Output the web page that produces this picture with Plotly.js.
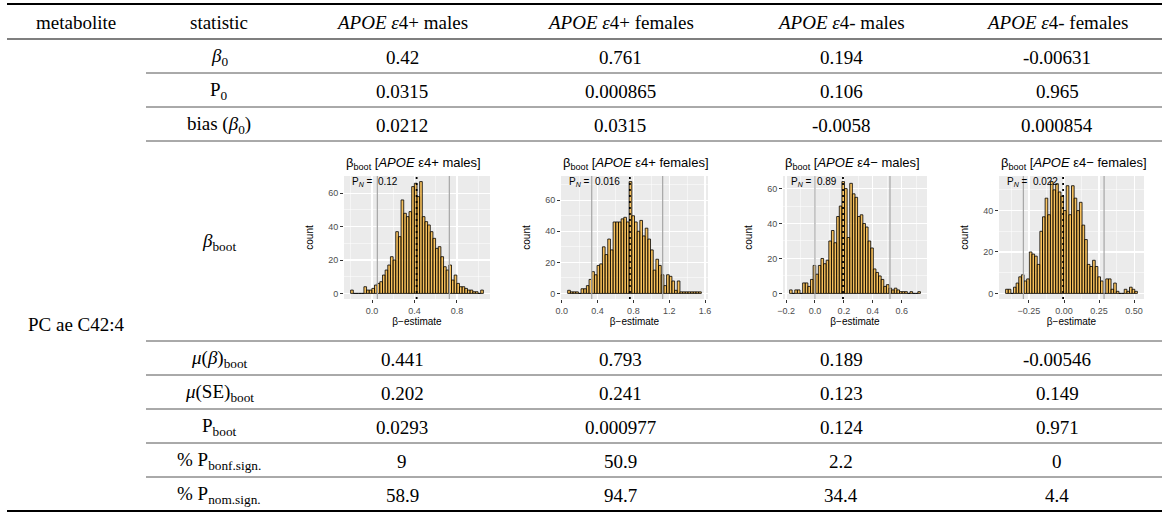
<!DOCTYPE html>
<html><head><meta charset="utf-8">
<script src="https://cdn.plot.ly/plotly-3.0.1.min.js"></script>
<style>html,body{margin:0;padding:0;background:#fff}#chart{width:1164px;height:512px}</style>
</head><body><div id="chart"></div>
<script>
// ---------- data ----------
const headerLabels = ['metabolite', 'statistic'];
const groupLabels = ['<i>APOE ε</i>4+ males', '<i>APOE ε</i>4+ females', '<i>APOE ε</i>4- males', '<i>APOE ε</i>4- females'];
const histTitles = ['β<sub>boot</sub> [<i>APOE</i> ε4+ males]', 'β<sub>boot</sub> [<i>APOE</i> ε4+ females]',
                    'β<sub>boot</sub> [<i>APOE</i> ε4− males]', 'β<sub>boot</sub> [<i>APOE</i> ε4− females]'];
const metaboliteName = 'PC ae C42:4';
const statLabels = ['<i>β</i><sub>0</sub>', 'P<sub>0</sub>', 'bias (<i>β</i><sub>0</sub>)', '<i>β</i><sub>boot</sub>',
                    '<i>μ</i>(<i>β</i>)<sub>boot</sub>', '<i>μ</i>(SE)<sub>boot</sub>', 'P<sub>boot</sub>',
                    '% P<sub>bonf.sign.</sub>', '% P<sub>nom.sign.</sub>'];
const beta0   = [0.42, 0.761, 0.194, -0.00631];
const p0      = [0.0315, 0.000865, 0.106, 0.965];
const bias0   = [0.0212, 0.0315, -0.0058, 0.000854];
const muBeta  = [0.441, 0.793, 0.189, -0.00546];
const muSE    = [0.202, 0.241, 0.123, 0.149];
const pBoot   = [0.0293, 0.000977, 0.124, 0.971];
const pBonf   = [9, 50.9, 2.2, 0];
const pNom    = [58.9, 94.7, 34.4, 4.4];
const pN      = [0.12, 0.016, 0.89, 0.022];
const qLow    = [0.05, 0.335, 0.0, -0.29];
const qHigh   = [0.728, 1.127, 0.519, 0.286];
const binStart = [-0.189, 0.0815, -0.1667, -0.4076];
const binWidth = [0.025, 0.02984, 0.01811, 0.01882];
const counts1 = [2,0,0,0,0,4,2,2,3,5,6,7,11,14,17,22,20,37,34,56,48,46,49,64,66,58,67,46,43,41,37,33,27,28,22,16,14,17,8,11,6,4,4,3,2,2,1,1,0,2];
const counts2 = [2,1,1,1,0,3,3,5,9,14,12,18,19,30,25,35,28,46,46,46,48,49,46,72,50,46,40,47,37,42,35,28,15,22,18,12,5,12,11,8,2,8,1,1,1,1,1,1,1,1];
const counts3 = [2,0,2,2,0,6,6,4,8,16,11,16,20,17,19,30,36,29,44,50,64,60,32,63,57,55,44,45,40,38,30,26,14,12,10,8,4,5,3,2,3,2,1,1,1,0,1,0,0,1];
const counts4 = [2,2,0,3,5,8,9,6,7,20,19,18,14,30,37,46,38,54,50,53,49,47,40,52,38,52,46,40,44,33,26,14,13,16,13,8,6,0,7,7,2,5,1,0,0,2,1,3,2,1];
const xTickStep = [0.4, 0.4, 0.2, 0.25];
const xTickFmt = ['.1f', '.1f', '.1f', '.2f'];

// ---------- layout geometry (pixels) ----------
const W = 1164, H = 512;
const fx = p => p / W, fy = p => 1 - p / H;
const lines = [4, 39, 73, 107, 141, 341, 375, 409, 443, 477, 511];
const colX = [76, 219, 402, 620, 841, 1057];
const panelX = [[344, 490], [561, 708], [783, 927], [999, 1144]];
const panelY = [176, 299];

const serif = 'Liberation Serif, Times New Roman, serif';
const sans = 'Liberation Sans, Arial, sans-serif';
const ann = [];
const shapes = [];
function cell(text, col, row) {
  const yc = (lines[row] + lines[row + 1]) / 2 + 1;
  ann.push({text, x: fx(colX[col]), y: fy(yc), xref: 'paper', yref: 'paper', xanchor: 'center', yanchor: 'middle',
            showarrow: false, font: {family: serif, size: 19, color: '#000'}});
}
cell(headerLabels[0], 0, 0); cell(headerLabels[1], 1, 0);
groupLabels.forEach((g, i) => cell(g, i + 2, 0));
statLabels.forEach((s, i) => cell(s, 1, i + 1));
const rowsTop = [beta0, p0, bias0];
rowsTop.forEach((arr, r) => arr.forEach((v, i) => cell(String(v), i + 2, r + 1)));
const rowsBot = [muBeta, muSE, pBoot, pBonf, pNom];
rowsBot.forEach((arr, r) => arr.forEach((v, i) => cell(String(v), i + 2, r + 5)));
ann.push({text: metaboliteName, x: fx(colX[0]), y: fy(324), xref: 'paper', yref: 'paper', xanchor: 'center', yanchor: 'middle',
          showarrow: false, font: {family: serif, size: 19, color: '#000'}});

function hline(y, x0, x1, w, c) {
  shapes.push({type: 'line', xref: 'paper', yref: 'paper', x0: fx(x0), x1: fx(x1), y0: fy(y), y1: fy(y), line: {color: c, width: w}});
}
hline(lines[0], 7, 1162, 2, '#000');
hline(lines[1], 7, 1162, 1.2, '#000');
[2, 3, 4, 5, 6, 7, 8, 9].forEach(i => hline(lines[i], 146, 1162, 1, '#555'));
hline(lines[10], 7, 1162, 2, '#000');

// ---------- histograms ----------
const allCounts = [counts1, counts2, counts3, counts4];
const traces = [];
const layout = {
  width: W, height: H, margin: {l: 0, r: 0, t: 0, b: 0}, paper_bgcolor: '#fff', plot_bgcolor: '#EBEBEB',
  showlegend: false, bargap: 0, annotations: ann, shapes: shapes
};
allCounts.forEach((c, i) => {
  const sfx = i ? String(i + 1) : '';
  const xa = 'x' + sfx, ya = 'y' + sfx;
  traces.push({type: 'bar', x0: binStart[i], dx: binWidth[i], y: c, width: binWidth[i], xaxis: xa, yaxis: ya,
               marker: {color: 'rgba(255,165,0,0.6)', line: {color: '#000', width: 0.8}}, hoverinfo: 'skip'});
  const lo = binStart[i] - binWidth[i] / 2, hi = binStart[i] + (c.length - 0.5) * binWidth[i];
  const ex = (hi - lo) * 0.05;
  const ymax = Math.max(...c);
  const tickfont = {family: sans, size: 9, color: '#4D4D4D'};
  layout['xaxis' + sfx] = {
    domain: [fx(panelX[i][0]), fx(panelX[i][1])], anchor: ya, range: [lo - ex, hi + ex],
    tick0: 0, dtick: xTickStep[i], tickformat: xTickFmt[i], ticks: 'outside', ticklen: 3, tickwidth: 1, tickcolor: '#333',
    tickfont, showgrid: true, gridcolor: '#fff', gridwidth: 1.1, zeroline: false, showline: false,
    minor: {dtick: xTickStep[i] / 2, showgrid: true, gridcolor: '#fff', gridwidth: 0.5, ticks: ''},
    title: {text: 'β−estimate', font: {family: sans, size: 10, color: '#000'}, standoff: 1},
    automargin: false, fixedrange: true
  };
  layout['yaxis' + sfx] = {
    domain: [fy(panelY[1]), fy(panelY[0])], anchor: xa, range: [-0.05 * ymax, 1.05 * ymax],
    tick0: 0, dtick: 20, ticks: 'outside', ticklen: 3, tickwidth: 1, tickcolor: '#333',
    tickfont, showgrid: true, gridcolor: '#fff', gridwidth: 1.1, zeroline: false, showline: false,
    minor: {dtick: 10, showgrid: true, gridcolor: '#fff', gridwidth: 0.5, ticks: ''},
    title: {text: 'count', font: {family: sans, size: 10, color: '#000'}, standoff: 12},
    automargin: false, fixedrange: true
  };
  [qLow[i], qHigh[i]].forEach(q => shapes.push({type: 'line', xref: xa, yref: ya + ' domain', x0: q, x1: q, y0: 0, y1: 1,
                                                 line: {color: '#A6A6A6', width: 1.2}}));
  shapes.push({type: 'line', xref: xa, yref: ya + ' domain', x0: beta0[i], x1: beta0[i], y0: 0, y1: 1,
               line: {color: '#000', width: 1.8, dash: '2px,4px'}});
  ann.push({text: histTitles[i], xref: xa + ' domain', yref: ya + ' domain', x: 0, y: 1 + 13 / 123, xanchor: 'left', yanchor: 'middle',
            showarrow: false, font: {family: sans, size: 13, color: '#000'}});
  ann.push({text: 'P<sub><i>N</i></sub> =\u00A0 ' + String(pN[i]), xref: xa + ' domain', yref: ya + ' domain', x: 0.04, y: 0.95,
            xanchor: 'left', yanchor: 'middle', showarrow: false, font: {family: sans, size: 10, color: '#000'}});
});

Plotly.newPlot('chart', traces, layout, {staticPlot: true, displayModeBar: false});
</script></body></html>
